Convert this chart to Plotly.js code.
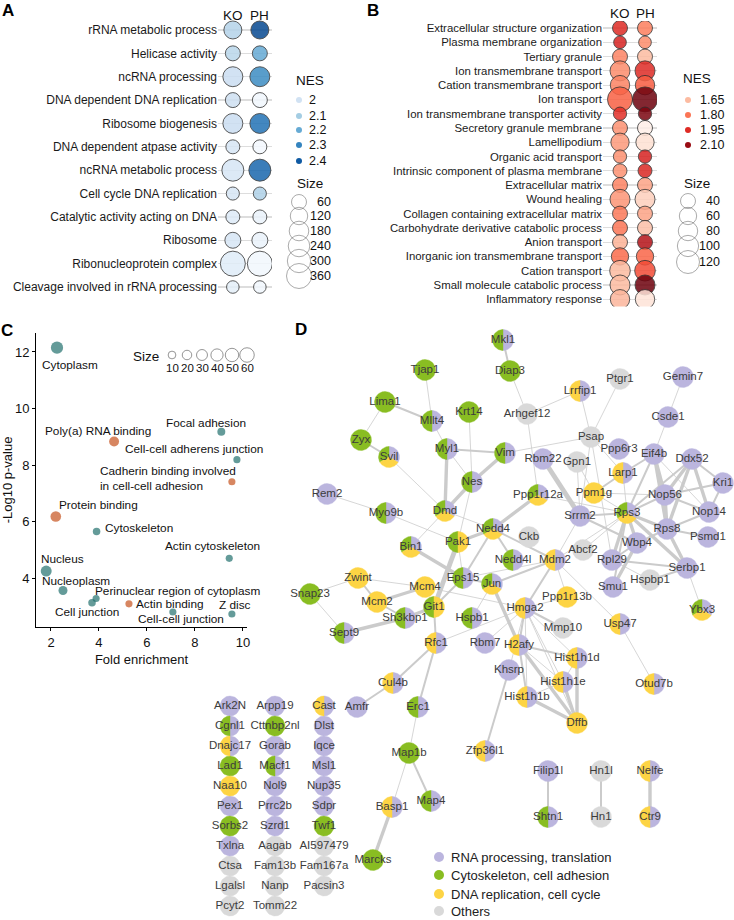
<!DOCTYPE html>
<html><head><meta charset="utf-8">
<script src="https://cdn.plot.ly/plotly-3.0.1.min.js"></script>
<style>html,body{margin:0;padding:0;background:#fff}#chart{width:734px;height:920px}</style>
</head><body><div id="chart"></div>
<script>
const FONT = 'Liberation Sans, Arial, sans-serif';

// ---------------- Panel A data ----------------
const aTerms = ["rRNA metabolic process","Helicase activity","ncRNA processing","DNA dependent DNA replication","Ribosome biogenesis","DNA dependent atpase activity","ncRNA metabolic process","Cell cycle DNA replication","Catalytic activity acting on DNA","Ribosome","Ribonucleoprotein complex","Cleavage involved in rRNA processing"];
const aSize  = [134, 60, 190, 60, 190, 38, 254, 20, 38, 83, 360, 10];
const aNesKO = [2.07, 2.06, 2.02, 2.01, 2.02, 1.98, 1.98, 1.98, 1.96, 1.98, 1.95, 1.94];
const aNesPH = [2.44, 2.2, 2.28, 1.9, 2.34, 1.89, 2.37, 2.08, 1.92, 1.92, 1.9, 1.9];
const aLegendNes  = [2, 2.1, 2.2, 2.3, 2.4];
const aLegendSize = [60, 120, 180, 240, 300, 360];

// ---------------- Panel B data ----------------
const bTerms = ["Extracellular structure organization","Plasma membrane organization","Tertiary granule","Ion transmembrane transport","Cation transmembrane transport","Ion transport","Ion transmembrane transporter activity","Secretory granule membrane","Lamellipodium","Organic acid transport","Intrinsic component of plasma membrane","Extracellular matrix","Wound healing","Collagen containing extracellular matrix","Carbohydrate derivative catabolic process","Anion transport","Inorganic ion transmembrane transport","Cation transport","Small molecule catabolic process","Inflammatory response"];
const bSize  = [40, 23, 40, 86, 80, 145, 27, 40, 69, 27, 32, 40, 86, 40, 40, 40, 60, 93, 86, 80];
const bNesKO = [1.95, 1.97, 1.77, 1.75, 1.77, 1.84, 1.94, 1.74, 1.72, 1.74, 1.74, 1.77, 1.73, 1.79, 1.8, 1.67, 1.82, 1.65, 1.65, 1.66];
const bNesPH = [1.78, 1.75, 1.65, 1.95, 1.85, 2.16, 2.14, 1.5, 1.56, 1.97, 1.96, 1.7, 1.6, 1.7, 1.64, 2.05, 1.83, 1.88, 2.16, 1.55];
const bLegendNes  = [1.65, 1.80, 1.95, 2.10];
const bLegendSize = [40, 60, 80, 100, 120];

// ---------------- Panel C data ----------------
const cTerms = ["Cytoplasm","Poly(a) RNA binding","Focal adhesion","Cell-cell adherens junction","Cadherin binding involved<br>in cell-cell adhesion","Protein binding","Cytoskeleton","Actin cytoskeleton","Nucleus","Nucleoplasm","Perinuclear region of cytoplasm","Cell junction","Actin binding","Cell-cell junction","Z disc"];
const cFold  = [2.25, 4.63, 9.1, 9.75, 9.54, 2.2, 3.9, 9.43, 1.8, 2.5, 3.88, 3.71, 5.25, 7.08, 9.54];
const cLogP  = [12.15, 8.83, 9.18, 8.19, 7.41, 6.18, 5.65, 4.7, 4.25, 3.56, 3.28, 3.13, 3.09, 2.8, 2.73];
const cCount = [40, 23, 11, 7, 7, 28, 9, 7, 30, 17, 7, 9, 7, 7, 7];
const cType  = ["CC","MF","CC","CC","MF","MF","CC","CC","CC","CC","CC","CC","MF","CC","CC"];
const cLegendSize = [10, 20, 30, 40, 50, 60];

// ---------------- Panel D data ----------------
const netGenes = ["Mkl1","Diap3","Tjap1","Lrrfip1","Ptgr1","Gemin7","Lima1","Mllt4","Krt14","Arhgef12","Csde1","Zyx","Svil","Psap","Ppp6r3","Eif4b","Ddx52","Myl1","Vim","Rbm22","Gpn1","Larp1","Kri1","Nes","Rem2","Ppp1r12a","Ppm1g","Nop56","Nop14","Myo9b","Dmd","Srrm2","Rps3","Rps8","Psmd1","Nedd4","Ckb","Pak1","Bin1","Wbp4","Abcf2","Nedd4l","Mdm2","Rpl29","Serbp1","Zwint","Hspbp1","Eps15","Jun","Mcm4","Smu1","Snap23","Mcm2","Ppp1r13b","Hmga2","Git1","Ybx3","Sh3kbp1","Hspb1","Usp47","Mmp10","Sept9","Rfc1","Rbm7","H2afy","Hist1h1d","Khsrp","Cul4b","Hist1h1e","Otud7b","Hist1h1b","Amfr","Erc1","Dffb","Map1b","Zfp36l1","Filip1l","Hn1l","Nelfe","Basp1","Map4","Shtn1","Hn1","Ctr9","Marcks"];
const netX = [503,510,425,580,620,683,385,432,469,527,668,361,389,591,619,654,692,447,505,543,577,623,723,472,327,538,594,665,709,386,445,580,627,667,708,493,529,458,411,637,583,513,555,612,687,358,650,463,492,425,613,310,377,567,525,434,702,405,472,620,563,344,436,485,519,577,509,393,563,654,527,357,418,577,409,485,548,601,650,392,431,548,601,650,373];
const netY = [340,371,370,391,379,377,402,421,412,414,417,440,457,437,449,454,459,449,453,459,462,473,483,482,494,495,493,495,512,513,511,516,513,529,537,529,537,542,547,543,550,560,560,560,568,578,580,578,584,587,587,594,602,597,608,607,610,618,618,624,628,633,643,643,645,658,670,683,682,684,697,707,707,723,753,751,771,771,771,807,801,817,817,817,860];
const netCats = ["PG","G","G","PY","O","P","G","PG","G","O","P","G","PYG","O","P","P","P","PG","PG","P","O","PY","P","PG","P","PYG","Y","P","P","PG","PYG","P","PYG","P","P","PYG","O","YG","PYG","P","O","PG","PY","P","P","Y","O","PG","PYG","Y","P","G","Y","Y","PY","YG","PYG","PG","PG","PY","O","PG","PY","P","PY","PY","P","PY","PY","PY","PY","P","PG","Y","G","PY","P","O","PY","PY","PG","PG","O","PY","G"];
const edgeFrom = ["Mkl1","Diap3","Tjap1","Lima1","Lima1","Zyx","Mllt4","Krt14","Arhgef12","Arhgef12","Lrrfip1","Ptgr1","Gemin7","Csde1","Myl1","Vim","Myl1","Vim","Myl1","Svil","Nes","Nes","Psap","Psap","Psap","Rbm22","Gpn1","Gpn1","Ppm1g","Larp1","Eif4b","Eif4b","Eif4b","Eif4b","Ddx52","Ddx52","Ddx52","Ddx52","Ddx52","Kri1","Kri1","Nop56","Nop56","Nop56","Ppm1g","Rps8","Rps3","Rps8","Rps8","Rps8","Rps3","Rps3","Rps3","Rps3","Rps3","Rps3","Wbp4","Wbp4","Rpl29","Serbp1","Serbp1","Rpl29","Srrm2","Ppp1r12a","Ppp1r12a","Nedd4","Nedd4","Nedd4","Nedd4","Nedd4","Pak1","Pak1","Bin1","Bin1","Rem2","Myo9b","Eps15","Eps15","Jun","Jun","Jun","Mdm2","Mdm2","Mdm2","Mdm2","Hmga2","Hmga2","Hmga2","Hmga2","Hmga2","Hmga2","Hmga2","Hmga2","Hmga2","H2afy","H2afy","H2afy","H2afy","Hist1h1d","Hist1h1d","Hist1h1e","Hist1h1b","Hist1h1b","Khsrp","Zwint","Zwint","Zwint","Mcm2","Mcm2","Snap23","Sept9","Sh3kbp1","Git1","Git1","Rfc1","Rfc1","Rfc1","Cul4b","Erc1","Map1b","Map1b","Basp1","Usp47","Filip1l","Hn1l","Nelfe","Mcm4","Srrm2","Larp1","Ppm1g"];
const edgeTo   = ["Diap3","Arhgef12","Mllt4","Mllt4","Zyx","Svil","Myl1","Nes","Lrrfip1","Ppp1r12a","Psap","Psap","Csde1","Eif4b","Vim","Psap","Nes","Nes","Dmd","Dmd","Dmd","Pak1","Larp1","Srrm2","Rpl29","Srrm2","Srrm2","Ppm1g","Larp1","Eif4b","Nop56","Rps8","Rps3","Nop14","Nop56","Nop14","Kri1","Rps8","Rps3","Nop56","Nop14","Nop14","Rps8","Rps3","Nop56","Psmd1","Rps8","Nop14","Wbp4","Serbp1","Wbp4","Rpl29","Srrm2","Serbp1","Smu1","Abcf2","Smu1","Rpl29","Serbp1","Ybx3","Hspbp1","Hspbp1","Wbp4","Nedd4","Rps3","Dmd","Pak1","Nedd4l","Mdm2","Eps15","Git1","Eps15","Eps15","Dmd","Myo9b","Pak1","Mdm2","Jun","Mdm2","H2afy","Hspb1","Hmga2","Ppp1r13b","Usp47","Rps3","H2afy","Hist1h1d","Hist1h1e","Hist1h1b","Khsrp","Mmp10","Rbm7","Dffb","Ppp1r13b","Hist1h1d","Hist1h1e","Hist1h1b","Dffb","Hist1h1e","Dffb","Dffb","Dffb","Hist1h1e","Zfp36l1","Mcm2","Snap23","Mcm4","Mcm4","Sh3kbp1","Sept9","Sh3kbp1","Git1","Rfc1","Eps15","Cul4b","Erc1","Hmga2","Amfr","Map1b","Basp1","Map4","Marcks","Otud7b","Shtn1","Hn1","Ctr9","Hmga2","Mdm2","Rps3","Rps3"];
const edgeW    = [2,1,1,2,1,2,1,1,1,1,1,1,1,1,2,1,1,3,3,1,3,1,1,1,1,4,1,1,2,2,3,3,2,1,3,3,2,3,2,2,2,2,3,2,1,2,3,2,2,3,3,3,2,3,2,1,3,2,2,1,2,1,2,3,1,1,3,2,2,2,4,1,3,1,1,1,1,2,2,3,1,2,1,1,1,2,1,1,1,1,2,1,1,1,2,1,2,3,1,3,3,3,1,2,2,1,1,3,2,1,3,3,2,2,2,2,1,2,1,1,2,3,1,2,2,3,1,1,1,1];

const listCol1Names = ["Ark2N","Cgnl1","Dnajc17","Lad1","Naa10","Pex1","Sorbs2","Txlna","Ctsa","Lgalsl","Pcyt2"];
const listCol1Cats  = ["P","PG","PY","G","Y","P","G","P","O","O","O"];
const listCol2Names = ["Arpp19","Cttnbp2nl","Gorab","Macf1","Nol9","Prrc2b","Szrd1","Aagab","Fam13b","Nanp","Tomm22"];
const listCol2Cats  = ["P","G","P","PG","P","P","P","O","O","O","O"];
const listCol3Names = ["Cast","Dlst","Iqce","Msl1","Nup35","Sdpr","Twf1","AI597479","Fam167a","Pacsin3"];
const listCol3Cats  = ["PY","P","P","P","P","P","G","O","O","O"];

const dLegendCats   = ["P","G","Y","O"];
const dLegendLabels = ["RNA processing, translation","Cytoskeleton, cell adhesion","DNA replication, cell cycle","Others"];

// ---------------- styles / scales ----------------
const BLUES = [[0,'#f7fbff'],[0.125,'#deebf7'],[0.25,'#c6dbef'],[0.375,'#9ecae1'],[0.5,'#6baed6'],[0.625,'#4292c6'],[0.75,'#2171b5'],[0.875,'#08519c'],[1,'#08306b']];
const REDS  = [[0,'#fff5f0'],[0.125,'#fee0d2'],[0.25,'#fcbba1'],[0.375,'#fc9272'],[0.5,'#fb6a4a'],[0.625,'#ef3b2c'],[0.75,'#cb181d'],[0.875,'#a50f15'],[1,'#67000d']];
const CATCOL = {P:'#bbb5de', G:'#89bd22', Y:'#fdd444', O:'#d9d9d9'};
const TYPECOL = {CC:'#22706d', MF:'#c6521e'};
const sizeA = s => Math.sqrt(145 + 1.333*s);
const sizeB = s => Math.sqrt(73 + 3.8*s);
const sizeC = s => Math.sqrt(30 + 3.0*s);
const W = 734, H = 920;
const px = v => v / W, py = v => 1 - v / H;

const traces = [];
const annotations = [];
const PXA = {xref:'x4', yref:'y4'};

// ---------------- Panel A ----------------
traces.push({
  type:'scatter', mode:'markers', xaxis:'x', yaxis:'y', hoverinfo:'skip', showlegend:false,
  x: aTerms.map(()=> 'KO').concat(aTerms.map(()=> 'PH')),
  y: aTerms.concat(aTerms),
  marker:{ color: aNesKO.concat(aNesPH), colorscale: BLUES, cmin:1.88, cmax:2.5, showscale:false,
           size: aSize.concat(aSize).map(sizeA), opacity:0.85, line:{color:'#2a2a2a', width:0.9} }
});
['KO','PH'].forEach(k => annotations.push({xref:'x', yref:'y4', x:k, y:15, text:k, showarrow:false, font:{family:FONT,size:13.5,color:'#111'}}));
traces.push({type:'scatter', mode:'markers', xaxis:'x4', yaxis:'y4', hoverinfo:'skip', showlegend:false,
  x: aLegendNes.map(()=>299), y:[100,116,130,145,161],
  marker:{color:aLegendNes, colorscale:BLUES, cmin:1.88, cmax:2.5, size:6}});
aLegendNes.forEach((v,i)=> annotations.push(Object.assign({x:307, y:[100,116,130,145,161][i], text:String(v), xanchor:'left', showarrow:false, font:{family:FONT,size:12.5,color:'#111'}}, PXA)));
annotations.push(Object.assign({x:310, y:80, text:'NES', showarrow:false, font:{family:FONT,size:13.5,color:'#111'}}, PXA));
annotations.push(Object.assign({x:310, y:183, text:'Size', showarrow:false, font:{family:FONT,size:13.5,color:'#111'}}, PXA));
const aSizeY = [202,216,231,246,261,276];
traces.push({type:'scatter', mode:'markers', xaxis:'x4', yaxis:'y4', hoverinfo:'skip', showlegend:false,
  x: aLegendSize.map(()=>299), y:aSizeY,
  marker:{color:'rgba(0,0,0,0)', size:aLegendSize.map(sizeA), line:{color:'#555', width:0.7}}});
aLegendSize.forEach((v,i)=> annotations.push(Object.assign({x:333, y:aSizeY[i], text:String(v), xanchor:'right', showarrow:false, font:{family:FONT,size:12.5,color:'#111'}}, PXA)));

// ---------------- Panel B ----------------
traces.push({
  type:'scatter', mode:'markers', xaxis:'x2', yaxis:'y2', hoverinfo:'skip', showlegend:false,
  x: bTerms.map(()=> 'KO').concat(bTerms.map(()=> 'PH')),
  y: bTerms.concat(bTerms),
  marker:{ color: bNesKO.concat(bNesPH), colorscale: REDS, cmin:1.477, cmax:2.17, showscale:false,
           size: bSize.concat(bSize).map(sizeB), opacity:0.85, line:{color:'#2a2a2a', width:0.9} }
});
['KO','PH'].forEach(k => annotations.push({xref:'x2', yref:'y4', x:k, y:13, text:k, showarrow:false, font:{family:FONT,size:13.5,color:'#111'}}));
const bNesY = [100,115,130,145];
traces.push({type:'scatter', mode:'markers', xaxis:'x4', yaxis:'y4', hoverinfo:'skip', showlegend:false,
  x: bLegendNes.map(()=>688), y:bNesY,
  marker:{color:bLegendNes, colorscale:REDS, cmin:1.477, cmax:2.17, size:6}});
bLegendNes.forEach((v,i)=> annotations.push(Object.assign({x:698, y:bNesY[i], text:v.toFixed(2), xanchor:'left', showarrow:false, font:{family:FONT,size:12.5,color:'#111'}}, PXA)));
annotations.push(Object.assign({x:697, y:78, text:'NES', showarrow:false, font:{family:FONT,size:13.5,color:'#111'}}, PXA));
annotations.push(Object.assign({x:697, y:183, text:'Size', showarrow:false, font:{family:FONT,size:13.5,color:'#111'}}, PXA));
const bSizeY = [201,216,231,246,262];
traces.push({type:'scatter', mode:'markers', xaxis:'x4', yaxis:'y4', hoverinfo:'skip', showlegend:false,
  x: bLegendSize.map(()=>688), y:bSizeY,
  marker:{color:'rgba(0,0,0,0)', size:bLegendSize.map(sizeB), line:{color:'#555', width:0.7}}});
bLegendSize.forEach((v,i)=> annotations.push(Object.assign({x:722, y:bSizeY[i], text:String(v), xanchor:'right', showarrow:false, font:{family:FONT,size:12.5,color:'#111'}}, PXA)));

// ---------------- Panel C ----------------
traces.push({type:'scatter', mode:'markers', xaxis:'x3', yaxis:'y3', hoverinfo:'skip', showlegend:false,
  x:cFold, y:cLogP, marker:{color:cType.map(t=>TYPECOL[t]), size:cCount.map(sizeC), line:{width:0}}});
const cLabDx = [13,-16,-15,-43,-64,43,42,-17,16,13,81,-5,41,8,3];
const cLabDy = [-17,11,9,11,3,11,3,12,12,10,7,-9,0,-7,9];
cTerms.forEach((t,i)=> annotations.push({xref:'x3', yref:'y3', x:cFold[i], y:cLogP[i], xshift:cLabDx[i], yshift:cLabDy[i], text:t, showarrow:false, align:'left', font:{family:FONT,size:11.8,color:'#111'}}));
const cLegX = [172,187,202,217,232,247];
traces.push({type:'scatter', mode:'markers', xaxis:'x4', yaxis:'y4', hoverinfo:'skip', showlegend:false,
  x:cLegX, y:cLegX.map(()=>355), marker:{color:'rgba(0,0,0,0)', size:cLegendSize.map(sizeC), line:{color:'#444', width:0.8}}});
cLegendSize.forEach((v,i)=> annotations.push(Object.assign({x:cLegX[i], y:368, text:String(v), showarrow:false, font:{family:FONT,size:11.5,color:'#111'}}, PXA)));
annotations.push(Object.assign({x:146, y:356, text:'Size', showarrow:false, font:{family:FONT,size:13.5,color:'#111'}}, PXA));

// ---------------- Panel D ----------------
const idx = {}; netGenes.forEach((g,i)=> idx[g]=i);
const EW = {1:0.8, 2:2, 3:3.4, 4:4.8};
[1,2,3,4].forEach(w => {
  const ex=[], ey=[];
  edgeFrom.forEach((a,i)=>{ if(edgeW[i]!==w) return; const A=idx[a], B=idx[edgeTo[i]]; ex.push(netX[A], netX[B], null); ey.push(netY[A], netY[B], null); });
  traces.push({type:'scatter', mode:'lines', xaxis:'x4', yaxis:'y4', hoverinfo:'skip', showlegend:false, x:ex, y:ey, line:{color:'#cbcbcb', width:EW[w]}});
});
const store = {P:{x:[],y:[]}, G:{x:[],y:[]}, Y:{x:[],y:[]}, O:{x:[],y:[]}};
function addPie(cx, cy, r, cats){
  const n = cats.length;
  for (let k=0;k<n;k++){
    const a0=k*360/n, a1=(k+1)*360/n, xs=[], ys=[];
    if(n>1){xs.push(cx); ys.push(cy);}
    const steps=Math.ceil((a1-a0)/5);
    for(let s=0;s<=steps;s++){const a=(a0+(a1-a0)*s/steps)*Math.PI/180; xs.push(cx+r*Math.sin(a)); ys.push(cy-r*Math.cos(a));}
    if(n>1){xs.push(cx); ys.push(cy);}
    store[cats[k]].x.push(...xs, null); store[cats[k]].y.push(...ys, null);
  }
}
const R = 10.5;
netGenes.forEach((g,i)=> addPie(netX[i], netY[i], R, netCats[i].split('')));
const gridColX = [230, 275, 324], gridY0 = 706, gridDY = 20;
const gridNames = [listCol1Names, listCol2Names, listCol3Names];
const gridCats  = [listCol1Cats, listCol2Cats, listCol3Cats];
const gx=[], gy=[], gt=[];
gridNames.forEach((col,c)=> col.forEach((n,r)=>{ const x=gridColX[c], y=gridY0+r*gridDY; addPie(x,y,10,gridCats[c][r].split('')); gx.push(x); gy.push(y); gt.push(n); }));
['O','P','G','Y'].forEach(k => traces.push({type:'scatter', mode:'lines', xaxis:'x4', yaxis:'y4', hoverinfo:'skip', showlegend:false,
  x:store[k].x, y:store[k].y, fill:'toself', fillcolor:CATCOL[k], line:{color:CATCOL[k], width:0.4}}));
traces.push({type:'scatter', mode:'text', xaxis:'x4', yaxis:'y4', hoverinfo:'skip', showlegend:false,
  x:netX, y:netY, text:netGenes, textposition:'middle center', textfont:{family:FONT, size:11.5, color:'#3c3c3c'}});
traces.push({type:'scatter', mode:'text', xaxis:'x4', yaxis:'y4', hoverinfo:'skip', showlegend:false,
  x:gx, y:gy, text:gt, textposition:'middle center', textfont:{family:FONT, size:11.5, color:'#3c3c3c'}});
const dLegY = [857,875,894,911];
traces.push({type:'scatter', mode:'markers', xaxis:'x4', yaxis:'y4', hoverinfo:'skip', showlegend:false,
  x:dLegendCats.map(()=>439), y:dLegY, marker:{color:dLegendCats.map(c=>CATCOL[c]), size:10}});
dLegendLabels.forEach((t,i)=> annotations.push(Object.assign({x:449, y:dLegY[i], text:t, xanchor:'left', showarrow:false, font:{family:FONT,size:13,color:'#222'}}, PXA)));

[['A',8,10],['B',373,10],['C',7,330],['D',301,329]].forEach(([t,x,y])=> annotations.push(Object.assign({x:x, y:y, text:'<b>'+t+'</b>', showarrow:false, font:{family:FONT,size:17,color:'#000'}}, PXA)));

const layout = {
  width:W, height:H, margin:{l:0,r:0,t:0,b:0}, paper_bgcolor:'#fff', plot_bgcolor:'rgba(0,0,0,0)',
  font:{family:FONT, color:'#111'}, showlegend:false,
  xaxis:{domain:[px(218),px(272)], type:'category', categoryarray:['KO','PH'], range:[-0.55,1.45], showticklabels:false, showgrid:false, zeroline:false, showline:false, fixedrange:true, anchor:'y'},
  yaxis:{domain:[py(298.7),py(18.3)], type:'category', categoryarray:aTerms, range:[11.5,-0.5], showgrid:true, gridcolor:'#dddddd', gridwidth:1.2, zeroline:false, showline:false, ticks:'', tickfont:{family:FONT,size:12,color:'#1a1a1a'}, fixedrange:true, anchor:'x'},
  xaxis2:{domain:[px(603),px(657)], type:'category', categoryarray:['KO','PH'], range:[-0.68,1.48], showticklabels:false, showgrid:false, zeroline:false, showline:false, fixedrange:true, anchor:'y2'},
  yaxis2:{domain:[py(306.4),py(20.9)], type:'category', categoryarray:bTerms, range:[19.5,-0.5], showgrid:true, gridcolor:'#dddddd', gridwidth:1.2, zeroline:false, showline:false, ticks:'', tickfont:{family:FONT,size:11.4,color:'#1a1a1a'}, fixedrange:true, anchor:'x2'},
  xaxis3:{domain:[px(36),px(247)], range:[1.375,10.17], tickvals:[2,4,6,8,10], ticks:'outside', ticklen:3, tickcolor:'#000', showline:true, linecolor:'#000', linewidth:1, showgrid:false, zeroline:false, tickfont:{family:FONT,size:13,color:'#111'}, title:{text:'Fold enrichment', font:{family:FONT,size:13,color:'#111'}, standoff:6}, anchor:'y3'},
  yaxis3:{domain:[py(627),py(333)], range:[2.27,12.67], tickvals:[4,6,8,10,12], ticks:'outside', ticklen:3, tickcolor:'#000', showline:true, linecolor:'#000', linewidth:1, showgrid:false, zeroline:false, tickfont:{family:FONT,size:13,color:'#111'}, title:{text:'-Log10 p-value', font:{family:FONT,size:13,color:'#111'}, standoff:0}, anchor:'x3'},
  xaxis4:{domain:[0,1], range:[0,W], visible:false, fixedrange:true, anchor:'y4'},
  yaxis4:{domain:[0,1], range:[H,0], visible:false, fixedrange:true, anchor:'x4'},
  annotations: annotations
};
Plotly.newPlot('chart', traces, layout, {staticPlot:true, displayModeBar:false});
</script></body></html>
